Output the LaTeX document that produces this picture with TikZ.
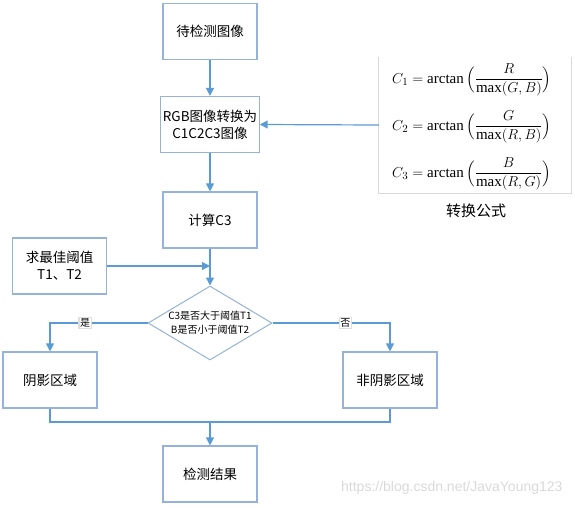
\documentclass[tikz,border=0pt]{standalone}
\usepackage{amsmath}
\usepackage{fontspec}
\setmainfont{Liberation Serif}
\newfontfamily\cjk{Noto Sans CJK SC}
\newfontfamily\wmfont{Liberation Sans}
\usetikzlibrary{arrows.meta,shapes.geometric,calc}
\definecolor{boxline}{RGB}{149,179,215}
\definecolor{flowline}{RGB}{91,155,213}
\tikzset{
  box/.style={draw=boxline,line width=1.2pt,minimum width=94pt,minimum height=56pt,inner sep=2pt,align=center,font=\cjk\fontsize{13.5}{17}\selectfont},
  test/.style={diamond,draw=boxline,line width=1pt,aspect=1.68,minimum width=124pt,minimum height=74pt,inner sep=0pt,align=center,font=\cjk\fontsize{10}{14}\selectfont},
  flow/.style={draw=flowline,line width=1.2pt,-{Triangle[length=8pt,width=8pt]}},
  link/.style={draw=flowline,line width=1.2pt},
  tag/.style={fill=white,draw=gray!25,inner sep=1pt,font=\cjk\fontsize{10}{12}\selectfont},
  formula/.style={anchor=west,inner sep=0pt,font=\fontsize{15}{17}\selectfont}
}

\begin{document}
\begin{tikzpicture}[x=1pt,y=-1pt]
\useasboundingbox (0,0) rectangle (575,507);
\node[box] (src) at (210,31.5) {待检测图像};
\node[box] (conv) at (210,124.5) {RGB图像转换为\\C1C2C3图像};
\node[box] (calc) at (210,220) {计算C3};
\node[box] (thr) at (59.5,266) {求最佳阈值\\T1、T2};
\node[test] (dia) at (210,323) {C3是否大于阈值T1\\B是否小于阈值T2};
\node[box] (shadow) at (50,380) {阴影区域};
\node[box] (nonshadow) at (390,380) {非阴影区域};
\node[box] (res) at (210,474) {检测结果};

\node[minimum width=192pt,minimum height=136pt,inner sep=0pt] (pf) at (475,125) {};
\draw[gray!30,line width=0.8pt] (pf.north west) -- (pf.south west) -- (pf.south east) -- (pf.north east);
\node[formula] (f1) at (392,80) {$C_1=\arctan\Big(\dfrac{R}{\max(G,B)}\Big)$};
\node[formula] (f2) at (392,127) {$C_2=\arctan\Big(\dfrac{G}{\max(R,B)}\Big)$};
\node[formula] (f3) at (392,174) {$C_3=\arctan\Big(\dfrac{B}{\max(R,G)}\Big)$};
\node[font=\cjk\fontsize{15}{17}\selectfont] (cap) at (476,211) {转换公式};

\draw[flow] (src) -- (conv);
\draw[flow] (pf.west) -- (conv.east);
\draw[flow] (conv) -- (calc);
\draw[flow] (calc) -- (dia);
\draw[flow] (thr.east) -- (thr.east -| calc.south);
\draw[flow] (dia.west) -| node[tag,pos=0.32] (yes) {是} (shadow.north);
\draw[flow] (dia.east) -| node[tag,pos=0.31] (no) {否} (nonshadow.north);
\coordinate (m) at (210,422);
\draw[link] (shadow.south) |- (m) -| (nonshadow.south);
\draw[flow] (m) -- (res);

\node[font=\wmfont\fontsize{14}{16}\selectfont,text=gray!30,anchor=east] (wm) at (566,488) {https://blog.csdn.net/JavaYoung123};
\end{tikzpicture}
\end{document}
